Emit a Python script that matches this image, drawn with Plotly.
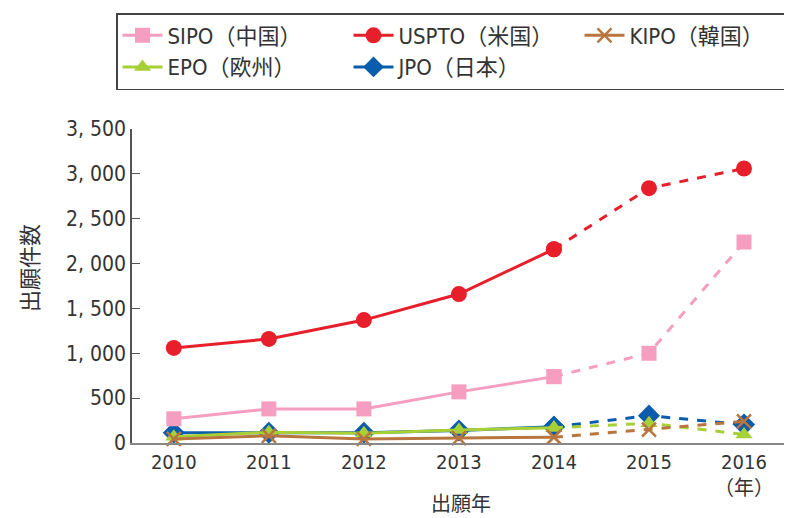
import plotly.graph_objects as go

years = [2010, 2011, 2012, 2013, 2014, 2015, 2016]
sipo = [270, 380, 380, 570, 740, 1000, 2240]
uspto = [1060, 1160, 1370, 1660, 2160, 2840, 3060]
kipo = [45, 80, 45, 55, 65, 150, 240]
epo = [70, 120, 110, 145, 170, 220, 95]
jpo = [115, 115, 115, 140, 180, 305, 205]

y_ticks = [0, 500, 1000, 1500, 2000, 2500, 3000, 3500]
y_tick_labels = ["0", "500", "1, 000", "1, 500", "2, 000", "2, 500", "3, 000", "3, 500"]
x_tick_labels = ["2010", "2011", "2012", "2013", "2014", "2015", "2016<br>（年）"]

series = [
    # name, values, color, symbol, size, rank
    ("JPO（日本）", jpo, "#0a5cad", "diamond", 17, 5),
    ("EPO（欧州）", epo, "#a7cf36", "triangle-up", 15, 4),
    ("KIPO（韓国）", kipo, "#b8763e", "x-thin-open", 14, 3),
    ("SIPO（中国）", sipo, "#f59ec0", "square", 15, 1),
    ("USPTO（米国）", uspto, "#e61f2b", "circle", 16, 2),
]

NARROW = "DejaVu Sans Condensed, Roboto, Noto Sans CJK JP, sans-serif"

# the page body adds an 8px margin; the figure is sized to fill the rest of the window
OFF = 8
W, H = 792 - OFF, 518 - OFF
ML, MR, MT, MB = 52, 0, 2, 75
GW, GH = W - ML - MR, H - MT - MB


def px_x(p):
    return (p - OFF - ML) / GW


def px_y(p):
    return (H - MB - (p - OFF)) / GH


fig = go.Figure()
for name, vals, color, sym, size, rank in series:
    mline = dict(width=2.5, color=color) if sym == "x-thin-open" else dict(width=0)
    fig.add_trace(go.Scatter(
        x=years[:5], y=vals[:5], mode="lines+markers", name=name,
        legendgroup=name, legendrank=rank,
        line=dict(color=color, width=3),
        marker=dict(symbol=sym, size=size, color=color, line=mline),
        cliponaxis=False,
    ))
    fig.add_trace(go.Scatter(
        x=years[4:], y=vals[4:], mode="lines+markers", name=name,
        legendgroup=name, showlegend=False,
        line=dict(color=color, width=3, dash="dash"),
        marker=dict(symbol=sym, size=size, color=color, line=mline),
        cliponaxis=False,
    ))

fig.update_layout(
    width=W, height=H,
    margin=dict(l=ML, r=MR, t=MT, b=MB, autoexpand=False),
    paper_bgcolor="white", plot_bgcolor="white",
    font=dict(family="Noto Sans CJK JP, Noto Sans, sans-serif", size=17, color="#333333"),
    showlegend=True,
    legend=dict(
        orientation="h", x=px_x(116), y=px_y(13), xanchor="left", yanchor="top",
        entrywidth=176, entrywidthmode="pixels",
        bordercolor="#444444", borderwidth=1.5, bgcolor="white",
        font=dict(size=22, color="#333333", family=NARROW),
        traceorder="normal", itemwidth=40, tracegroupgap=0,
    ),
    xaxis=dict(
        domain=[px_x(132), 1],
        range=[2009.56, 2016.505], tickvals=years, ticktext=x_tick_labels,
        showgrid=False, zeroline=False, showline=True, linecolor="#888888", linewidth=2,
        ticks="", tickfont=dict(size=20, family=NARROW),
    ),
    yaxis=dict(
        domain=[0, px_y(129)],
        range=[0, 3500], tickvals=y_ticks, ticktext=y_tick_labels,
        showgrid=False, zeroline=False, showline=True, linecolor="#555555", linewidth=1.5,
        ticks="inside", ticklen=8, tickcolor="#555555",
        tickfont=dict(size=21, family=NARROW),
    ),
    annotations=[
        dict(text="出願年", xref="paper", yref="paper", x=px_x(461), y=px_y(502),
             xanchor="center", yanchor="middle", showarrow=False,
             font=dict(size=20, color="#333333")),
        dict(text="出願件数", xref="paper", yref="paper", x=px_x(28), y=px_y(268),
             xanchor="center", yanchor="middle", showarrow=False, textangle=-90,
             font=dict(size=22, color="#333333")),
    ],
)

fig.write_html("out.html")
